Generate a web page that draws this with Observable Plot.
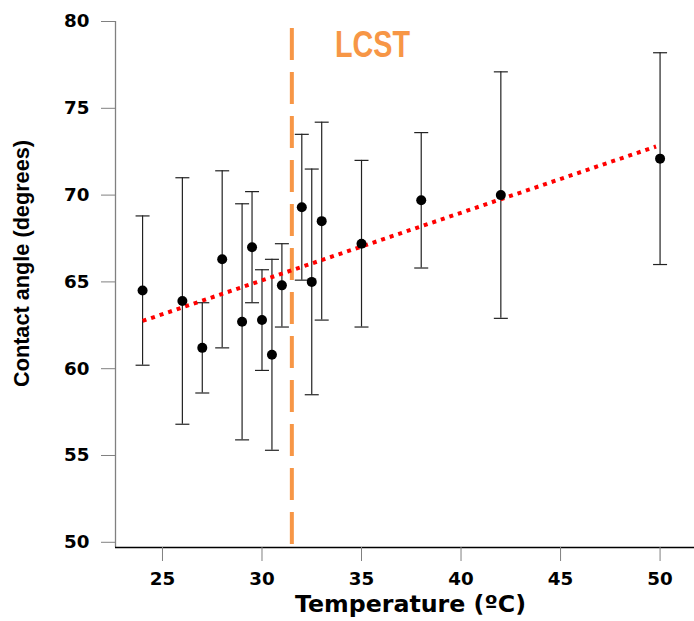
<!DOCTYPE html>
<html>
<head>
<meta charset="utf-8">
<script src="https://cdn.jsdelivr.net/npm/d3@7"></script>
<script src="https://cdn.jsdelivr.net/npm/@observablehq/plot@0.6"></script>
<style>
  html, body { margin: 0; padding: 0; background: #ffffff; }
</style>
</head>
<body>
<div id="chart"></div>
<script>
// ---- data ----
const temperatures = [24, 26, 27, 28, 29, 29.5, 30, 30.5, 31, 32, 32.5, 33, 35, 38, 42, 50];
const angles       = [64.5, 63.9, 61.2, 66.3, 62.7, 67.0, 62.8, 60.8, 64.8, 69.3, 65.0, 68.5, 67.2, 69.7, 70.0, 72.1];
const upperBounds  = [68.8, 71.0, 63.8, 71.4, 69.5, 70.2, 65.7, 66.3, 67.2, 73.5, 71.5, 74.2, 72.0, 73.6, 77.1, 78.2];
const lowerBounds  = [60.2, 56.8, 58.6, 61.2, 55.9, 63.8, 59.9, 55.3, 62.4, 65.1, 58.5, 62.8, 62.4, 65.8, 62.9, 66.0];

const trendTemps  = [24, 49.8];
const trendAngles = [62.75, 72.8];

const lcstTemp   = [31.5];
const lcstSpan   = [79.6, 49.8];
const lcstLabel  = ["LCST"];
const lcstLabelAt = [35.55, 78.6];

const xTicks = [25, 30, 35, 40, 45, 50];
const yTicks = [50, 55, 60, 65, 70, 75, 80];
const xDomain = [22.64, 51.73];
const yDomain = [49.7, 80];
const xTitle = "Temperature (ºC)";
const yTitle = "Contact angle (degrees)";

// ---- build tables ----
const rows = temperatures.map((t, i) => ({t, a: angles[i], hi: upperBounds[i], lo: lowerBounds[i]}));
const trend = trendTemps.map((t, i) => ({t, a: trendAngles[i]}));
const lcst = lcstTemp.map(t => ({t, top: lcstSpan[0], bottom: lcstSpan[1]}));

// horizontal cap symbol for error bars
const cap = { draw(ctx) { ctx.moveTo(-7, 0); ctx.lineTo(7, 0); } };

const tickFont = "DejaVu Sans, sans-serif";

const chart = Plot.plot({
  width: 694,
  height: 621,
  marginLeft: 115,
  marginRight: 0,
  marginTop: 21,
  marginBottom: 74,
  style: { background: "#ffffff", color: "#000000", overflow: "visible" },
  x: { domain: xDomain },
  y: { domain: yDomain },
  marks: [
    // axis lines
    Plot.ruleX([xDomain[0]], { stroke: "#808080", strokeWidth: 1.3 }),
    Plot.ruleY([yDomain[0]], { stroke: "#000000", strokeWidth: 1.3 }),
    Plot.axisX({
      ticks: xTicks, tickSize: 14, tickPadding: 10, stroke: "#808080",
      label: null, fontFamily: tickFont, fontSize: 18.3, fontWeight: "bold", fill: "#000"
    }),
    Plot.axisY({
      ticks: yTicks, tickSize: 14, tickPadding: 12, stroke: "#808080",
      label: null, fontFamily: tickFont, fontSize: 18.3, fontWeight: "bold", fill: "#000"
    }),
    // LCST dashed line
    Plot.ruleX(lcst, {
      x: "t", y1: "top", y2: "bottom",
      stroke: "#F79646", strokeWidth: 4, strokeDasharray: "32,12"
    }),
    Plot.text(lcstLabel, {
      x: [lcstLabelAt[0]], y: [lcstLabelAt[1]], text: d => d,
      fill: "#F79646", fontSize: 36, fontWeight: "bold",
      fontFamily: "Liberation Sans, Arial, sans-serif",
      textAnchor: "middle", lineAnchor: "middle",
      className: "lcst-label"
    }),
    // error bars
    Plot.ruleX(rows, { x: "t", y1: "lo", y2: "hi", stroke: "#222", strokeWidth: 1.2 }),
    Plot.dot(rows, { x: "t", y: "hi", symbol: cap, stroke: "#222", strokeWidth: 1.2 }),
    Plot.dot(rows, { x: "t", y: "lo", symbol: cap, stroke: "#222", strokeWidth: 1.2 }),
    // trend line
    Plot.line(trend, {
      x: "t", y: "a", stroke: "#FF0000", strokeWidth: 4,
      strokeDasharray: "4,5", strokeLinecap: "butt"
    }),
    // points
    Plot.dot(rows, { x: "t", y: "a", r: 5, fill: "#000000", stroke: "none" }),
    // axis titles
    Plot.text([xTitle], {
      frameAnchor: "bottom", dx: 5.5, dy: 57, text: d => d,
      fontFamily: tickFont, fontSize: 23.7, fontWeight: "bold", fill: "#000",
      textAnchor: "middle", lineAnchor: "middle"
    }),
    Plot.text([yTitle], {
      frameAnchor: "left", dx: -93, dy: -21, rotate: -90, text: d => d,
      fontFamily: "Liberation Sans, Arial, sans-serif", fontSize: 21.7, fontWeight: "bold", fill: "#000",
      textAnchor: "middle", lineAnchor: "middle"
    })
  ]
});

// narrow the LCST label to match the condensed look of the reference
d3.select(chart).selectAll("g.lcst-label text, .lcst-label text")
  .attr("textLength", 75)
  .attr("lengthAdjust", "spacingAndGlyphs");

document.getElementById("chart").appendChild(chart);
</script>
</body>
</html>
